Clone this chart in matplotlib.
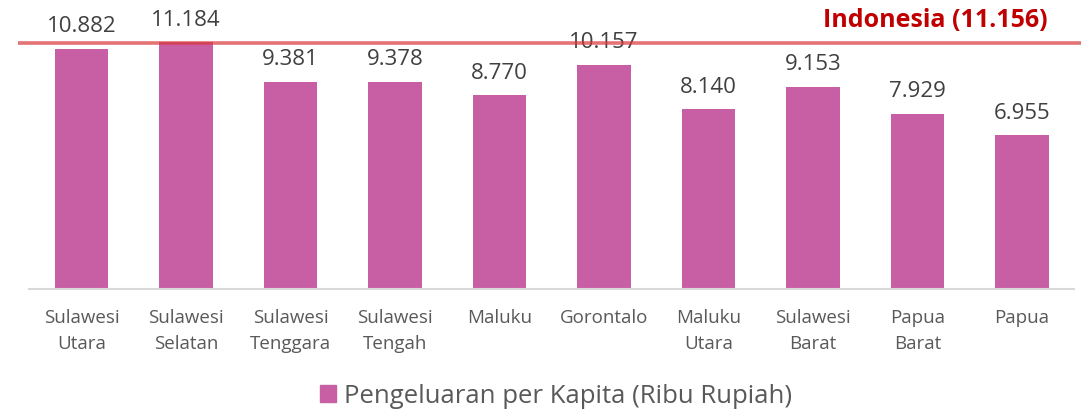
import matplotlib
matplotlib.use("Agg")
import matplotlib.pyplot as plt
from matplotlib.patches import Patch

plt.rcParams['font.family'] = ['Open Sans', 'DejaVu Sans']

provinces = ["Sulawesi\nUtara", "Sulawesi\nSelatan", "Sulawesi\nTenggara", "Sulawesi\nTengah",
             "Maluku", "Gorontalo", "Maluku\nUtara", "Sulawesi\nBarat", "Papua\nBarat", "Papua"]
spending = [10.882, 11.184, 9.381, 9.378, 8.770, 10.157, 8.140, 9.153, 7.929, 6.955]
national_value = 11.156
national_label = "Indonesia (11.156)"
series_name = "Pengeluaran per Kapita (Ribu Rupiah)"

bar_color = "#C85FA5"
text_gray = "#595959"

fig = plt.figure(figsize=(10.81, 4.14), dpi=100)
ax = fig.add_axes([0.0271, 0.3007, 0.9667, 0.6993])

x = list(range(len(provinces)))
bars = ax.bar(x, spending, width=0.51, color=bar_color, zorder=2)

for xi, v in zip(x, spending):
    ax.annotate(f"{v:.3f}", (xi, v), xytext=(0, 9), textcoords="offset points",
                ha="center", va="bottom", fontsize=16, color="#404040",
                annotation_clip=False)

ax.set_xlim(-0.5, len(provinces) - 0.5)
ax.set_ylim(0, 13.135)

# national average reference line, extending across the full width
ax.plot([-0.61, 9.57], [national_value, national_value], color="#D9383A",
        alpha=0.7, linewidth=2.6, clip_on=False, zorder=3, solid_capstyle="butt")
ax.text(9.24, 12.22, national_label, ha="right", va="center", fontsize=18,
        fontweight="bold", color="#C00000")

ax.set_xticks(x)
ax.set_xticklabels(provinces, fontsize=13.5, color=text_gray, linespacing=1.6)
ax.tick_params(axis="x", length=0, pad=14)
ax.set_yticks([])
for side in ("top", "right", "left"):
    ax.spines[side].set_visible(False)
ax.spines["bottom"].set_color("#D9D9D9")
ax.spines["bottom"].set_linewidth(1.5)

fig.legend(handles=[Patch(color=bar_color, label=series_name)],
           loc="center", bbox_to_anchor=(556 / 1081, 1 - 397 / 414),
           frameon=False, fontsize=18.5, handlelength=0.6, handleheight=0.6,
           handletextpad=0.3, labelcolor=text_gray)

fig.savefig("out.png", dpi=100)
